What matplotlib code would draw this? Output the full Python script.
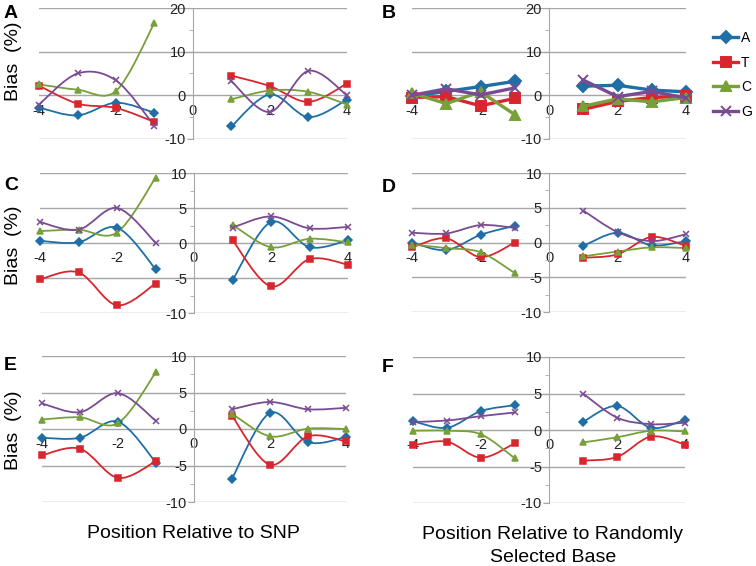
import matplotlib
matplotlib.use("Agg")
import matplotlib.pyplot as plt
from matplotlib.path import Path
from matplotlib.patches import PathPatch
from matplotlib.lines import Line2D
from matplotlib.ticker import MultipleLocator

plt.rcParams['font.family'] = ['Liberation Sans', 'DejaVu Sans']
plt.rcParams['axes.unicode_minus'] = False

# positions around the base (0 itself is not plotted)
LEFT_POS = [-4, -3, -2, -1]
RIGHT_POS = [1, 2, 3, 4]

BASES = ['A', 'T', 'C', 'G']

# values per panel: 8 values per base, -4..-1 then 1..4
PANEL_A = {
    'A': [-2.8, -4.6, -1.7, -4.0, -7.1, 0.2, -5.0, -1.0],
    'T': [2.2, -1.9, -2.9, -6.1, 4.5, 2.1, -1.5, 2.7],
    'C': [2.5, 1.3, 1.0, 16.6, -0.9, 1.1, 0.8, -2.1],
    'G': [-2.1, 5.0, 3.4, -7.0, 3.2, -3.8, 5.6, 0.0],
}
PANEL_B = {
    'A': [-0.2, 0.9, 2.0, 3.2, 2.1, 2.3, 1.2, 0.8],
    'T': [-0.5, -0.3, -2.4, -0.7, -3.2, -1.4, -0.5, -0.2],
    'C': [0.5, -1.9, 0.8, -4.4, -2.5, -0.8, -1.5, -0.5],
    'G': [0.0, 1.5, 0.1, 1.7, 3.5, -0.3, 0.9, -0.6],
}
PANEL_C = {
    'A': [0.3, 0.1, 2.2, -3.7, -5.3, 3.0, -0.6, 0.4],
    'T': [-5.2, -4.2, -8.9, -5.8, 0.4, -6.2, -2.3, -3.1],
    'C': [1.7, 1.9, 1.5, 9.3, 2.6, -0.6, 0.6, 0.1],
    'G': [3.0, 1.9, 5.0, 0.05, 2.2, 3.8, 2.1, 2.3],
}
PANEL_D = {
    'A': [0.0, -1.1, 1.1, 2.4, -0.5, 1.4, -0.4, 0.2],
    'T': [-0.7, 0.6, -2.1, 0.0, -2.2, -1.7, 0.8, -0.5],
    'C': [-0.3, -0.8, -1.4, -4.4, -2.0, -1.3, -0.7, -0.8],
    'G': [1.4, 1.3, 2.5, 2.1, 4.6, 1.5, 0.2, 1.2],
}
PANEL_E = {
    'A': [-1.2, -1.2, 1.0, -4.6, -6.8, 2.2, -1.8, -1.1],
    'T': [-3.6, -2.7, -6.7, -4.4, 1.8, -4.9, -1.0, -1.7],
    'C': [1.3, 1.6, 0.8, 7.8, 2.1, -1.0, 0.05, 0.0],
    'G': [3.5, 2.3, 4.9, 1.1, 2.7, 3.7, 2.7, 2.9],
}
PANEL_F = {
    'A': [1.2, 0.3, 2.6, 3.4, 1.1, 3.3, 0.3, 1.4],
    'T': [-2.1, -1.6, -3.8, -1.8, -4.2, -3.7, -0.9, -2.0],
    'C': [-0.1, -0.1, -0.6, -3.9, -1.7, -1.0, -0.1, -0.2],
    'G': [1.1, 1.3, 1.9, 2.4, 5.0, 1.7, 0.8, 1.0],
}

COLORS = {'A': '#1F6FA6', 'T': '#D9262E', 'C': '#78A03A', 'G': '#7A4A92'}
MARKERS = {'A': 'D', 'T': 's', 'C': '^', 'G': 'x'}
GRID = '#A6A6A6'

W, H = 756, 566


def smooth_path(xs, ys):
    # Bezier path through the points (Excel-like smoothed line)
    pts = list(zip(xs, ys))
    n = len(pts)
    verts = [pts[0]]
    codes = [Path.MOVETO]
    for i in range(n - 1):
        p0 = pts[i - 1] if i > 0 else pts[i]
        p1 = pts[i]
        p2 = pts[i + 1]
        p3 = pts[i + 2] if i + 2 < n else pts[i + 1]
        c1 = (p1[0] + (p2[0] - p0[0]) / 6, p1[1] + (p2[1] - p0[1]) / 6)
        c2 = (p2[0] - (p3[0] - p1[0]) / 6, p2[1] - (p3[1] - p1[1]) / 6)
        verts += [c1, c2, p2]
        codes += [Path.CURVE4] * 3
    return Path(verts, codes)


def draw_panel(fig, px, ylim, major, data, smooth=True, lw=1.3, ms=4.5):
    x0, y0, x1, y1 = px
    ax = fig.add_axes([x0 / W, 1 - y1 / H, (x1 - x0) / W, (y1 - y0) / H])
    ax.set_xlim(-4, 4)
    ax.set_ylim(*ylim)
    for s in ['top', 'right']:
        ax.spines[s].set_visible(False)
    ax.spines['left'].set_position(('data', 0))
    ax.spines['left'].set_color(GRID)
    ax.spines['bottom'].set_position(('data', 0))
    ax.spines['bottom'].set_color('none')
    ax.yaxis.set_major_locator(MultipleLocator(major))
    ax.yaxis.set_minor_locator(MultipleLocator(major / 2))
    ax.set_xticks([-4, -2, 0, 2, 4])
    ax.tick_params(axis='x', length=0, pad=6, labelsize=10.5, colors='#222222')
    ax.tick_params(axis='y', which='major', length=4, color=GRID, labelsize=10.5,
                   pad=1, labelcolor='#222222')
    ax.tick_params(axis='y', which='minor', length=3, color=GRID)
    ax.yaxis.grid(True, color=GRID, lw=1)
    ax.set_axisbelow(True)
    ax.patch.set_alpha(0)

    for b in BASES:
        vals = data[b]
        for pos, v in ((LEFT_POS, vals[:4]), (RIGHT_POS, vals[4:])):
            if smooth:
                ax.add_patch(PathPatch(smooth_path(pos, v), fill=False,
                                       edgecolor=COLORS[b], lw=lw, clip_on=False))
                ax.plot(pos, v, ls='none', marker=MARKERS[b], color=COLORS[b],
                        ms=ms, mew=1.1, clip_on=False)
            else:
                ax.plot(pos, v, marker=MARKERS[b], color=COLORS[b], lw=lw,
                        ms=ms, mew=1.4, clip_on=False)
    return ax


fig = plt.figure(figsize=(W / 100, H / 100), dpi=100)

draw_panel(fig, (39, 8, 347, 139), (-10, 20), 10, PANEL_A)
draw_panel(fig, (412, 8, 686, 139), (-10, 20), 10, PANEL_B, smooth=False, lw=2.4, ms=6.5)
draw_panel(fig, (40, 173, 348, 313), (-10, 10), 5, PANEL_C)
draw_panel(fig, (412, 173, 686, 312), (-10, 10), 5, PANEL_D)
draw_panel(fig, (42, 356, 346, 502), (-10, 10), 5, PANEL_E)
draw_panel(fig, (413, 357, 685, 503), (-10, 10), 5, PANEL_F)

# panel letters
for lab, (x, y) in {'A': (4, 13), 'B': (382, 13), 'C': (4, 185), 'D': (382, 187),
                     'E': (4, 366), 'F': (382, 368)}.items():
    fig.text(x / W, 1 - y / H, lab, fontsize=14, fontweight='bold', va='center')

# y labels
for y in (61, 245, 430):
    fig.text(13 / W, 1 - y / H, 'Bias  (%)', rotation=90, fontsize=14,
             ha='center', va='center')

fig.text(193 / W, 1 - 534 / H, 'Position Relative to SNP', fontsize=14,
         ha='center', va='center')
fig.text(553 / W, 1 - 546 / H, 'Position Relative to Randomly\nSelected Base',
         fontsize=14, ha='center', va='center', linespacing=1.4)

handles = [Line2D([], [], color=COLORS[b], marker=MARKERS[b], lw=2.4, ms=6.5, mew=1.4)
           for b in BASES]
fig.legend(handles, BASES, loc='upper left', bbox_to_anchor=(713 / W, 1 - 31 / H),
           frameon=False, fontsize=10, handlelength=1.8, handletextpad=0.2,
           labelspacing=0.76, borderaxespad=0, borderpad=0)

fig.savefig('out.png', dpi=100)
